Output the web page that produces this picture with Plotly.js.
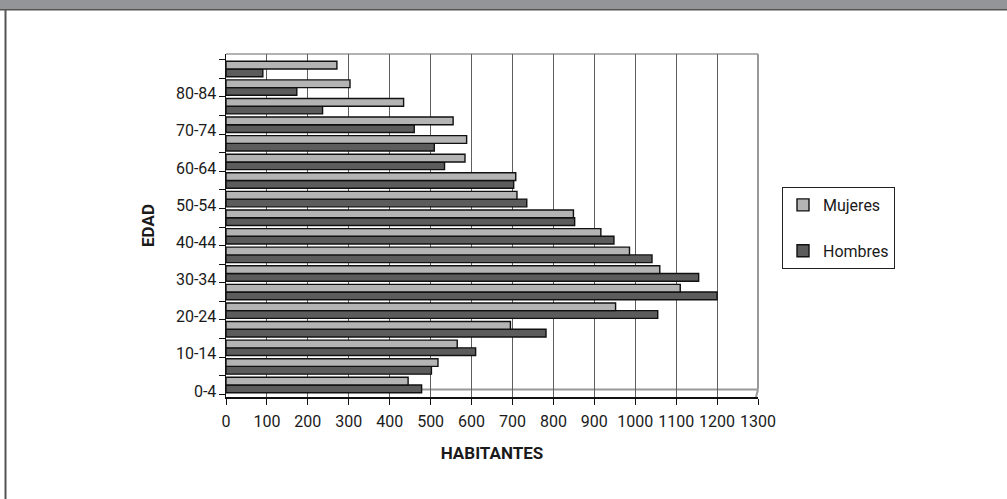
<!DOCTYPE html>
<html>
<head>
<meta charset="utf-8">
<script src="https://cdn.plot.ly/plotly-3.0.1.min.js"></script>
<style>
  html, body { margin: 0; padding: 0; background: #fff; }
  #chart { width: 1007px; height: 499px; }
</style>
</head>
<body>
<div id="chart"></div>
<script>
// Age groups (bottom to top)
const ageGroups = ["0-4","5-9","10-14","15-19","20-24","25-29","30-34","35-39","40-44",
                   "45-49","50-54","55-59","60-64","65-69","70-74","75-79","80-84","85+"];
// Tick labels shown on the axis (every other group)
const tickLabels = ["0-4","","10-14","","20-24","","30-34","","40-44",
                    "","50-54","","60-64","","70-74","","80-84",""];
// Values (habitantes)
const mujeres = [445, 518, 565, 695, 952, 1110, 1060, 986, 916, 849, 711, 708, 584, 588, 555, 434, 303, 271];
const hombres = [478, 502, 610, 782, 1055, 1200, 1155, 1041, 948, 852, 735, 703, 534, 509, 460, 236, 173, 90];
const xTicks = [0,100,200,300,400,500,600,700,800,900,1000,1100,1200,1300];

const FONT = 'Roboto, "Liberation Sans Narrow", sans-serif';

const traces = [
  {
    type: 'bar', orientation: 'h', name: 'Hombres',
    y: ageGroups, x: hombres, legendgroup: 'h', legendrank: 2,
    marker: { color: '#5c5c5c', line: { color: '#111', width: 1.4 } },
    hoverinfo: 'x+y+name'
  },
  {
    type: 'bar', orientation: 'h', name: 'Mujeres',
    y: ageGroups, x: mujeres, legendgroup: 'm', legendrank: 1,
    marker: { color: '#b4b4b4', line: { color: '#111', width: 1.4 } },
    hoverinfo: 'x+y+name'
  }
];

// plot area in pixels: left 226, right 758, top 54, bottom 397
const L = 226, R = 758, T = 54, B = 397;
const px = v => (v - L) / (R - L);
const py = v => (B - v) / (B - T);

const layout = {
  width: 1007, height: 499,
  margin: { l: L, r: 1007 - R, t: T, b: 499 - B, pad: 0 },
  paper_bgcolor: '#ffffff', plot_bgcolor: '#ffffff',
  font: { family: FONT, size: 16, color: '#1a1a1a' },
  barmode: 'group', bargap: 0.17, bargroupgap: 0,
  showlegend: true,
  legend: {
    x: px(782), y: py(187), xanchor: 'left', yanchor: 'top',
    bordercolor: '#222', borderwidth: 1, bgcolor: '#fff',
    traceorder: 'grouped', tracegroupgap: 22,
    font: { family: FONT, size: 16, color: '#1a1a1a' }
  },
  xaxis: {
    range: [0, 1300], tickmode: 'array', tickvals: xTicks,
    showgrid: true, gridcolor: '#5e5e5e', gridwidth: 1,
    zeroline: false, showline: true, linecolor: '#111', linewidth: 1.5,
    ticks: 'outside', ticklen: 6, tickcolor: '#111', ticklabelstandoff: 3,
    tickfont: { family: FONT, size: 16, color: '#1a1a1a' },
    title: { text: '<b>HABITANTES</b>', standoff: 17,
             font: { family: FONT, size: 17, color: '#1a1a1a' } },
    fixedrange: true
  },
  yaxis: {
    type: 'category', range: [-0.645, 17.807],
    tickmode: 'array', tickvals: ageGroups, ticktext: tickLabels,
    tickson: 'boundaries', ticks: 'outside', ticklen: 6, tickcolor: '#111',
    ticklabelshift: 6, ticklabelstandoff: 5,
    showgrid: false, zeroline: false,
    showline: true, linecolor: '#111', linewidth: 1.5,
    tickfont: { family: FONT, size: 16, color: '#1a1a1a' },
    title: { text: '<b>EDAD</b>', standoff: 17,
             font: { family: FONT, size: 17, color: '#1a1a1a' } },
    fixedrange: true
  },
  shapes: [
    // header banner
    { type: 'rect', xref: 'paper', yref: 'paper', x0: px(0), x1: px(1007), y0: py(9), y1: py(0),
      fillcolor: '#939598', line: { width: 0 }, layer: 'above' },
    { type: 'line', xref: 'paper', yref: 'paper', x0: px(0), x1: px(1007), y0: py(9.8), y1: py(9.8),
      line: { color: '#555', width: 1.6 }, layer: 'above' },
    // left frame border
    { type: 'line', xref: 'paper', yref: 'paper', x0: px(5.5), x1: px(5.5), y0: py(10), y1: py(499),
      line: { color: '#555', width: 2 }, layer: 'above' },
    // back wall top edge
    { type: 'line', xref: 'paper', yref: 'paper', x0: 0, x1: 1, y0: 1, y1: 1,
      line: { color: '#999', width: 1.5 }, layer: 'below' },
    // right wall edge
    { type: 'line', xref: 'paper', yref: 'paper', x0: 1, x1: 1, y0: py(389.5), y1: 1,
      line: { color: '#999', width: 2 }, layer: 'below' },
    { type: 'line', xref: 'paper', yref: 'paper', x0: 1, x1: px(756), y0: py(389.5), y1: 0,
      line: { color: '#999', width: 2 }, layer: 'below' },
    // floor back edge
    { type: 'line', xref: 'paper', yref: 'paper', x0: 0, x1: 1, y0: py(389.5), y1: py(389.5),
      line: { color: '#999', width: 2 }, layer: 'below' }
  ]
};

Plotly.newPlot('chart', traces, layout, { displayModeBar: false, staticPlot: true });
</script>
</body>
</html>
